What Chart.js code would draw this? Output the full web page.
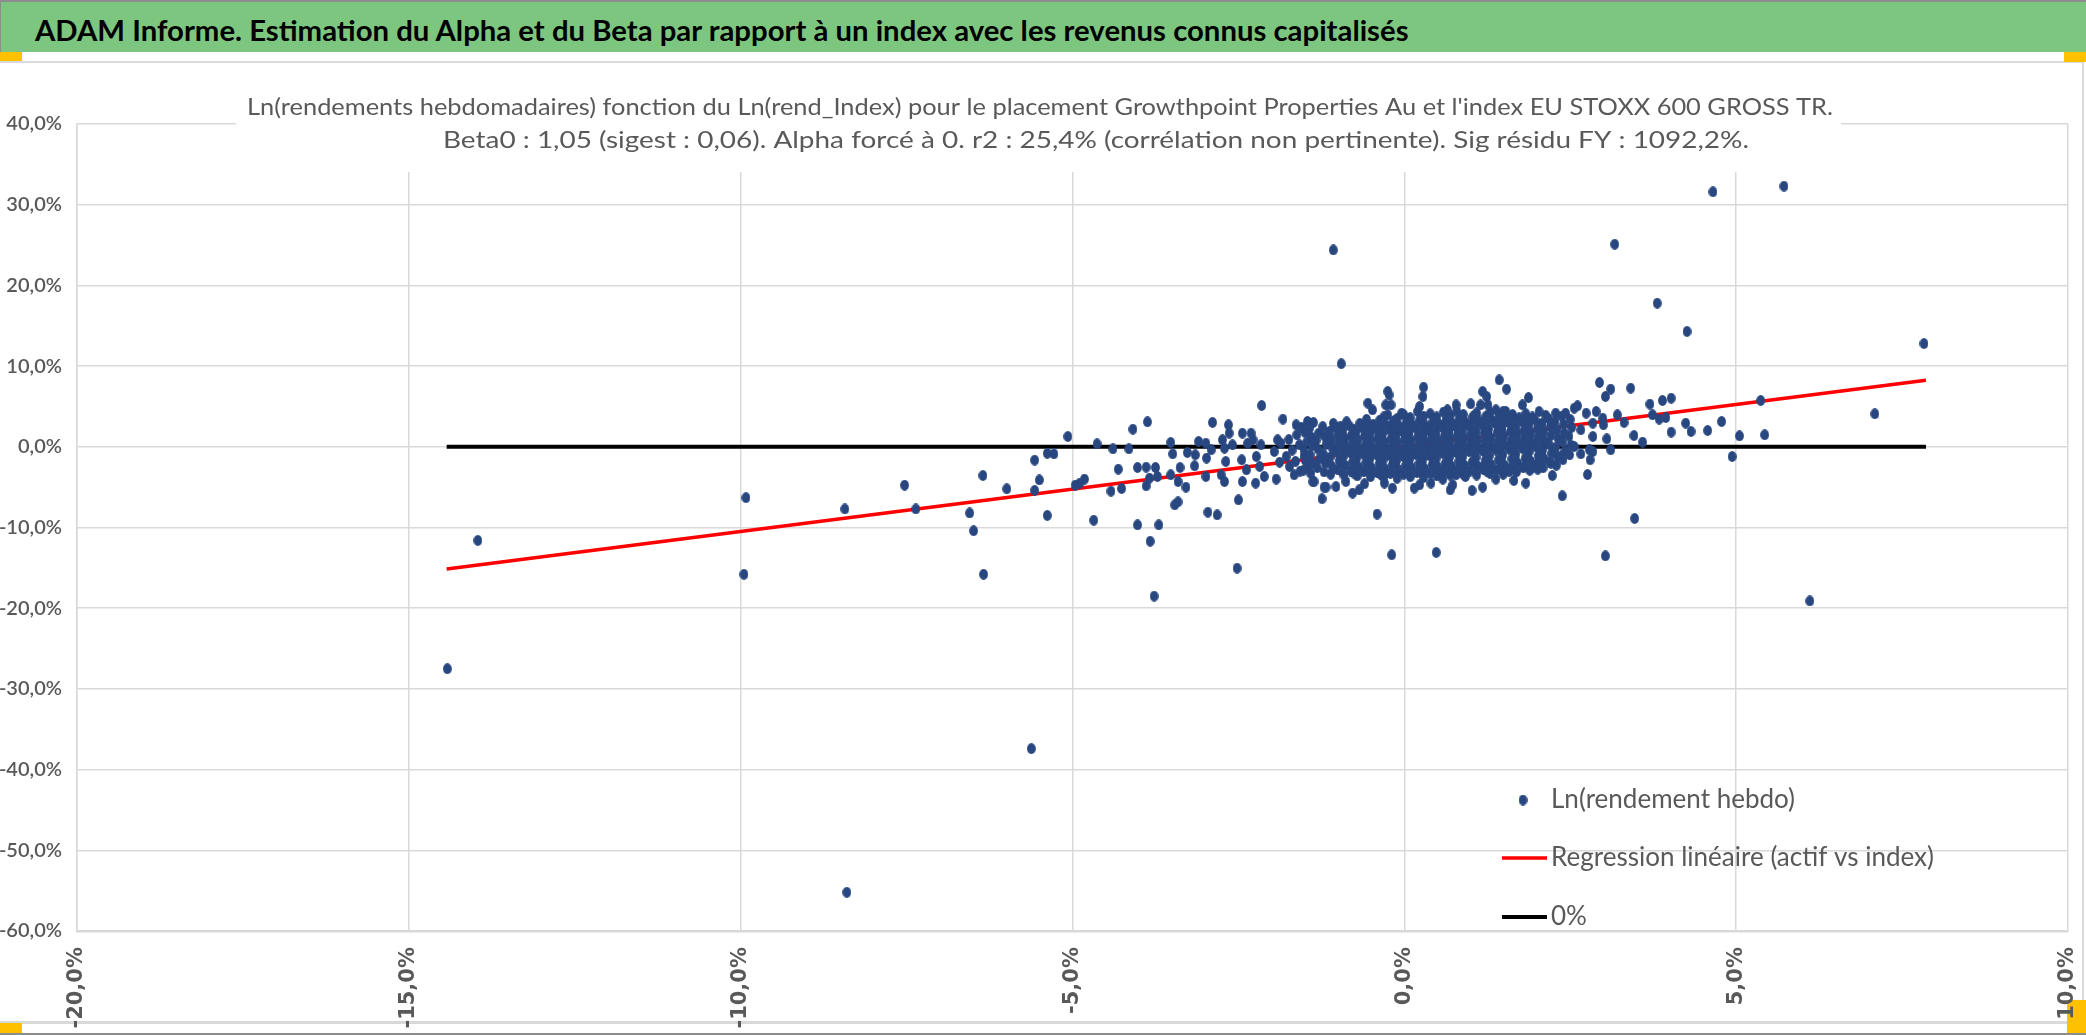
<!DOCTYPE html>
<html lang="fr">
<head>
<meta charset="utf-8">
<title>ADAM Informe - Alpha et Beta</title>
<script src="https://cdn.jsdelivr.net/npm/chart.js@4.4.1/dist/chart.umd.min.js"></script>
<style>
  html, body { margin: 0; padding: 0; background: #fff; }
  body { width: 2086px; height: 1035px; position: relative; overflow: hidden; }
  #banner {
    position: absolute; left: 0; top: 0; width: 2086px; height: 52px;
    background: #7DC67F; border-top: 2px solid #8C8C8C; border-left: 1px solid #8C8C8C;
    box-sizing: border-box;
  }
  #bannerText {
    position: absolute; left: 34px; top: 11px; line-height: 28px;
    font: bold 28px Lato, "Liberation Sans", sans-serif; color: #000;
    white-space: nowrap; transform-origin: left center;
  }
  #frame {
    position: absolute; left: 0; top: 61px; width: 2084px; height: 963px;
    border-top: 2px solid #D9D9D9; border-right: 2px solid #D9D9D9; border-bottom: 3px solid #D9D9D9;
    box-sizing: border-box;
  }
  #bottomEdge { position: absolute; left: 0; top: 1033px; width: 2086px; height: 2px; background: #8C8C8C; }
  .handle { position: absolute; background: #FFC000; }
  #chart { position: absolute; left: 0; top: 0; }
</style>
</head>
<body>
<div id="banner"><span id="bannerText">ADAM Informe. Estimation du Alpha et du Beta par rapport à un index avec les revenus connus capitalisés</span></div>
<div id="frame"></div>
<div id="bottomEdge"></div>
<div class="handle" style="left:0;top:52px;width:22px;height:9px"></div>
<div class="handle" style="left:2064px;top:52px;width:22px;height:10px"></div>
<div class="handle" style="left:0;top:1023px;width:22px;height:10px"></div>
<div class="handle" style="left:2067px;top:1000px;width:19px;height:33px"></div>
<canvas id="chart" width="2086" height="1035"></canvas>
<script>
// ln(rendement hebdo) de l'actif (y) contre ln(rendement) de l'index (x), en %
const leftTail = [
  [-14.42, -27.5], [-13.96, -11.6], [-9.92, -6.3], [-9.95, -15.8], [-8.40, -55.2], [-8.43, -7.7],
  [-7.53, -4.75], [-7.36, -7.7], [-6.55, -8.2], [-6.49, -10.4], [-6.35, -3.55], [-6.34, -15.8],
  [-5.99, -5.2], [-5.62, -37.4], [-5.57, -1.65], [-5.50, -4.1], [-5.57, -5.4], [-5.38, -0.8],
  [-5.28, -0.87], [-5.38, -8.5], [-5.07, 1.28], [-4.96, -4.75]
];

const leftShoulder = [
  [-4.89, -4.5], [-4.82, -4.0], [-4.68, -9.1], [-4.63, 0.37], [-4.42, -5.5], [-4.39, -0.25],
  [-4.31, -2.77], [-4.26, -5.16], [-4.15, -0.25], [-4.09, 2.19], [-4.02, -2.56], [-4.02, -9.67],
  [-3.89, -2.52], [-3.87, 3.1], [-3.89, -4.83], [-3.83, -11.7], [-3.84, -3.88], [-3.75, -2.56],
  [-3.72, -3.68], [-3.70, -9.67], [-3.77, -18.5], [-3.52, 0.54], [-3.49, -0.87], [-3.52, -3.47],
  [-3.46, -7.19], [-3.41, -6.82], [-3.41, -4.3], [-3.38, -2.56], [-3.29, -5.0], [-3.27, -0.7],
  [-3.15, -0.99], [-3.16, -2.35], [-3.10, 0.66], [-2.99, 0.45], [-2.98, -1.4], [-2.99, -3.68],
  [-2.96, -8.1], [-2.89, 3.02], [-2.82, -8.43], [-2.91, -0.37], [-2.74, 0.87], [-2.71, -0.17],
  [-2.65, 2.73], [-2.64, 1.69], [-2.76, -3.47], [-2.71, -4.3], [-2.69, -1.82], [-2.59, 0.25],
  [-2.52, -15.04], [-2.50, -6.57], [-2.44, 1.69], [-2.31, 1.69], [-2.44, -4.3], [-2.45, -1.61],
  [-2.38, -2.85], [-2.36, 0.45], [-2.28, 0.87], [-2.24, -4.5], [-2.23, -1.2], [-2.18, -2.44],
  [-2.16, 0.25], [-2.15, 5.12], [-2.11, -3.68], [-1.93, -4.0], [-1.96, -0.58], [-1.91, 0.87],
  [-1.86, 0.45], [-1.83, 3.43], [-1.78, -1.2], [-1.73, -2.44], [-1.66, -3.47], [-1.63, 2.73],
  [-1.62, 1.49], [-1.58, 0.25], [-1.51, -1.2], [-1.46, -2.44], [-1.46, 3.14], [-1.37, 3.02],
  [-1.36, -4.3], [-1.24, -6.44], [-1.18, -5.0], [-1.03, -4.92], [-0.88, -4.3], [-0.78, -5.74],
  [-0.68, -5.33], [-0.60, -4.58], [-0.41, -8.34], [-0.19, -13.38], [0.48, -13.09], [-0.55, 5.41],
  [-0.48, 4.58], [-0.25, 6.86], [-0.23, 6.44], [-0.28, 5.2], [-0.20, 5.2], [-0.25, 3.97],
  [-0.04, 4.17], [0.29, 7.39], [0.28, 6.24], [0.23, 5.0], [0.20, 4.38], [-0.18, -5.12],
  [-0.30, -4.5], [0.15, -5.12], [0.23, -4.71], [0.40, -4.5], [-1.38, -4.3], [-1.21, -5.0],
  [-1.88, -1.9], [-1.69, -0.4], [-1.74, 0.9], [-1.57, -3.0], [-1.64, -1.8], [-1.55, 2.4]
];

const clusterCore = [
  [-1.52, -2.9], [-1.49, -1.7], [-1.51, -0.5], [-1.47, 0.6], [-1.50, 1.8],
  [-1.41, -3.3], [-1.38, -2.1], [-1.42, -1.0], [-1.39, 0.1], [-1.40, 1.2], [-1.43, 2.3],
  [-1.31, -2.6], [-1.28, -1.5], [-1.30, -0.3], [-1.33, 0.8], [-1.29, 1.7],
  [-1.21, -3.1], [-1.19, -2.0], [-1.22, -0.9], [-1.18, 0.3], [-1.20, 1.3], [-1.23, 2.5],
  [-1.11, -3.4], [-1.09, -2.4], [-1.12, -1.3], [-1.08, -0.2], [-1.10, 0.9], [-1.13, 1.9], [-1.07, 2.9],
  [-1.01, -2.8], [-0.98, -1.7], [-1.02, -0.6], [-0.99, 0.5], [-1.00, 1.5], [-1.03, 2.4],
  [-0.91, -3.5], [-0.89, -2.3], [-0.92, -1.2], [-0.88, -0.1], [-0.90, 1.0], [-0.93, 2.0], [-0.87, 3.1],
  [-0.81, -3.0], [-0.78, -1.9], [-0.82, -0.7], [-0.79, 0.4], [-0.80, 1.4], [-0.83, 2.6],
  [-0.71, -3.6], [-0.69, -2.5], [-0.72, -1.4], [-0.68, -0.3], [-0.70, 0.8], [-0.73, 1.8], [-0.67, 2.9],
  [-0.61, -3.1], [-0.58, -2.0], [-0.62, -0.9], [-0.59, 0.2], [-0.60, 1.3], [-0.63, 2.3], [-0.57, 3.4],
  [-0.51, -3.7], [-0.49, -2.6], [-0.52, -1.5], [-0.48, -0.4], [-0.50, 0.7], [-0.53, 1.7], [-0.47, 2.8],
  [-0.41, -3.2], [-0.38, -2.1], [-0.42, -1.0], [-0.39, 0.1], [-0.40, 1.1], [-0.43, 2.2], [-0.37, 3.3],
  [-0.31, -3.8], [-0.29, -2.7], [-0.32, -1.6], [-0.28, -0.5], [-0.30, 0.6], [-0.33, 1.6], [-0.27, 2.7], [-0.31, 3.7],
  [-0.21, -3.3], [-0.18, -2.2], [-0.22, -1.1], [-0.19, 0.0], [-0.20, 1.0], [-0.23, 2.1], [-0.17, 3.1],
  [-0.11, -3.9], [-0.09, -2.8], [-0.12, -1.7], [-0.08, -0.6], [-0.10, 0.5], [-0.13, 1.5], [-0.07, 2.5], [-0.11, 3.5],
  [-0.01, -3.4], [0.02, -2.3], [-0.02, -1.2], [0.01, -0.1], [0.00, 0.9], [-0.03, 1.9], [0.03, 3.0], [-0.01, 4.0],
  [0.09, -3.7], [0.11, -2.6], [0.08, -1.5], [0.12, -0.4], [0.10, 0.7], [0.07, 1.7], [0.13, 2.7], [0.09, 3.6],
  [0.19, -3.2], [0.22, -2.1], [0.18, -1.0], [0.21, 0.2], [0.20, 1.2], [0.17, 2.3], [0.23, 3.3],
  [0.29, -3.8], [0.31, -2.7], [0.28, -1.6], [0.32, -0.5], [0.30, 0.6], [0.27, 1.6], [0.33, 2.6], [0.29, 3.8],
  [0.39, -3.3], [0.42, -2.2], [0.38, -1.1], [0.41, 0.0], [0.40, 1.0], [0.37, 2.0], [0.43, 3.1], [0.39, 4.1],
  [0.49, -3.6], [0.51, -2.5], [0.48, -1.4], [0.52, -0.3], [0.50, 0.8], [0.47, 1.8], [0.53, 2.8], [0.49, 3.7],
  [0.59, -3.1], [0.62, -2.0], [0.58, -0.8], [0.61, 0.3], [0.60, 1.3], [0.57, 2.4], [0.63, 3.4], [0.59, 4.3],
  [0.69, -3.5], [0.71, -2.4], [0.68, -1.3], [0.72, -0.2], [0.70, 0.9], [0.67, 1.9], [0.73, 2.9], [0.69, 3.9],
  [0.79, -2.9], [0.82, -1.8], [0.78, -0.7], [0.81, 0.4], [0.80, 1.5], [0.77, 2.5], [0.83, 3.5], [0.79, 4.4],
  [0.89, -3.4], [0.91, -2.3], [0.88, -1.2], [0.92, -0.1], [0.90, 1.0], [0.87, 2.0], [0.93, 3.0], [0.89, 4.0],
  [0.99, -3.0], [1.02, -1.9], [0.98, -0.6], [1.01, 0.5], [1.00, 1.6], [0.97, 2.6], [1.03, 3.7],
  [1.09, -3.5], [1.11, -2.4], [1.08, -1.3], [1.12, -0.2], [1.10, 0.9], [1.07, 2.1], [1.13, 3.2], [1.09, 4.2],
  [1.19, -2.8], [1.22, -1.7], [1.18, -0.5], [1.21, 0.6], [1.20, 1.7], [1.17, 2.7], [1.23, 3.8],
  [1.29, -3.3], [1.31, -2.2], [1.28, -1.1], [1.32, 0.0], [1.30, 1.1], [1.27, 2.2], [1.33, 3.3], [1.29, 4.3],
  [1.39, -2.9], [1.42, -1.6], [1.38, -0.4], [1.41, 0.7], [1.40, 1.8], [1.37, 2.9], [1.43, 3.9],
  [1.49, -3.4], [1.51, -2.3], [1.48, -1.0], [1.52, 0.2], [1.50, 1.3], [1.47, 2.4], [1.53, 3.5], [1.49, 4.4],
  [1.59, -2.7], [1.62, -1.5], [1.58, -0.3], [1.61, 0.8], [1.60, 1.9], [1.57, 3.0], [1.63, 4.0],
  [1.69, -3.1], [1.71, -2.0], [1.68, -0.9], [1.72, 0.3], [1.70, 1.4], [1.67, 2.5], [1.73, 3.6],
  [1.79, -2.6], [1.82, -1.4], [1.78, -0.2], [1.81, 0.9], [1.80, 2.0], [1.77, 3.1], [1.83, 4.1],
  [1.89, -2.9], [1.91, -1.8], [1.88, -0.6], [1.92, 0.5], [1.90, 1.6], [1.87, 2.7], [1.93, 3.7],
  [1.99, -2.3], [2.02, -1.1], [1.98, 0.0], [2.01, 1.1], [2.00, 2.2], [1.97, 3.3],
  [2.09, -2.6], [2.11, -1.5], [2.08, -0.4], [2.12, 0.7], [2.10, 1.8], [2.07, 2.9], [2.13, 3.9],
  [2.19, -1.9], [2.22, -0.8], [2.18, 0.3], [2.21, 1.4], [2.20, 2.5], [2.17, 3.5],
  [2.29, -2.3], [2.31, -1.2], [2.28, -0.1], [2.32, 1.0], [2.30, 2.1], [2.27, 3.1],
  [2.39, -1.6], [2.42, -0.5], [2.38, 0.6], [2.41, 1.7], [2.40, 2.8], [2.37, 3.8],
  [2.49, -1.0], [2.51, 0.2], [2.48, 1.3], [2.52, 2.4], [2.50, 3.4]
];

// semaines supplémentaires au coeur du nuage (zone très dense)
const coreFill = [
  [-0.96, -2.9], [-0.94, -1.75], [-0.97, -0.65], [-0.95, 0.45], [-0.93, 1.5], [-0.96, 2.55],
  [-0.76, -3.25], [-0.74, -2.2], [-0.77, -1.1], [-0.75, 0.0], [-0.73, 1.1], [-0.76, 2.2],
  [-0.56, -2.8], [-0.54, -1.7], [-0.57, -0.6], [-0.55, 0.5], [-0.53, 1.6], [-0.56, 2.6],
  [-0.36, -3.4], [-0.34, -2.4], [-0.37, -1.3], [-0.35, -0.2], [-0.33, 0.8], [-0.36, 1.9], [-0.34, 3.0],
  [-0.16, -2.9], [-0.14, -1.9], [-0.17, -0.8], [-0.15, 0.3], [-0.13, 1.3], [-0.16, 2.3], [-0.14, 3.3],
  [0.04, -3.1], [0.06, -2.0], [0.03, -0.9], [0.05, 0.2], [0.07, 1.3], [0.04, 2.4], [0.06, 3.5],
  [0.24, -3.0], [0.26, -1.9], [0.23, -0.8], [0.25, 0.4], [0.27, 1.4], [0.24, 2.5], [0.26, 3.6],
  [0.44, -2.9], [0.46, -1.8], [0.43, -0.7], [0.45, 0.5], [0.47, 1.5], [0.44, 2.5], [0.46, 3.5],
  [0.64, -2.7], [0.66, -1.6], [0.63, -0.5], [0.65, 0.6], [0.67, 1.7], [0.64, 2.8], [0.66, 3.8],
  [0.84, -3.1], [0.86, -2.0], [0.83, -0.9], [0.85, 0.2], [0.87, 1.3], [0.84, 2.4], [0.86, 3.4],
  [1.04, -2.6], [1.06, -1.5], [1.03, -0.4], [1.05, 0.7], [1.07, 1.8], [1.04, 2.9], [1.06, 3.9],
  [1.24, -3.0], [1.26, -1.9], [1.23, -0.8], [1.25, 0.3], [1.27, 1.4], [1.24, 2.5], [1.26, 3.5],
  [1.44, -2.5], [1.46, -1.3], [1.43, -0.2], [1.45, 0.9], [1.47, 2.0], [1.44, 3.1],
  [1.64, -2.3], [1.66, -1.2], [1.63, -0.1], [1.65, 1.0], [1.67, 2.1], [1.64, 3.2],
  [1.84, -2.1], [1.86, -1.0], [1.83, 0.1], [1.85, 1.2], [1.87, 2.3], [1.84, 3.4],
  [2.04, -1.8], [2.06, -0.7], [2.03, 0.4], [2.05, 1.5], [2.07, 2.6]
];

const rightShoulder = [
  [1.43, 8.3], [1.54, 7.15], [1.18, 6.86], [1.24, 6.24], [0.78, 5.2], [1.00, 5.33], [1.15, 5.2],
  [1.26, 5.2], [0.65, 4.58], [1.38, 4.58], [1.53, 4.38], [1.87, 6.1], [1.78, 5.2], [2.03, 4.38],
  [2.28, 4.17], [2.43, 4.17], [2.56, 4.79], [2.61, 5.08], [2.74, 4.17], [2.89, 4.38], [2.94, 7.97],
  [3.11, 7.15], [3.03, 6.24], [3.41, 7.27], [3.21, 3.97], [3.31, 3.02], [2.66, 2.11], [2.84, 2.93],
  [2.99, 3.55], [3.00, 2.73], [2.84, 1.28], [3.05, 0.99], [2.56, 0.04], [2.66, -0.87], [2.79, -0.37],
  [2.84, -0.58], [2.80, -1.61], [3.11, -0.37], [2.76, -3.43], [2.36, -1.2], [2.21, -2.02], [2.23, -3.55],
  [2.38, -6.07], [3.46, 1.4], [3.59, 0.58], [3.47, -8.88], [3.03, -13.51], [3.70, 5.29], [3.89, 5.74],
  [4.02, 6.03], [3.74, 3.97], [3.84, 3.43], [3.94, 3.63], [4.02, 1.82], [4.24, 2.93], [4.32, 1.9],
  [4.57, 2.02], [4.78, 3.14], [4.94, -1.2], [5.05, 1.36], [5.37, 5.74], [5.43, 1.49], [1.83, -4.5],
  [1.65, -4.17], [1.58, -3.06], [1.38, -4.0], [1.18, -5.0], [1.02, -5.41], [0.69, -5.33], [0.73, -4.71],
  [0.58, -4.0], [0.78, -3.47], [0.92, -3.68], [1.93, -2.52], [2.01, -2.77], [1.53, -2.77], [1.46, -1.82],
  [1.20, -2.44], [1.05, -2.85]
];

const outliers = [
  [-1.07, 24.4], [-0.95, 10.3], [4.65, 31.6], [5.72, 32.3], [3.17, 25.1], [3.81, 17.8],
  [4.26, 14.3], [7.83, 12.8], [7.09, 4.09], [6.11, -19.1]
];

const regressionX = [-14.43, 7.86];
const regressionY = [-15.15, 8.25];
const zeroLineX = [-14.43, 7.86];
const zeroLineY = [0, 0];

const xTickLabels = ['-20,0%', '-15,0%', '-10,0%', '-5,0%', '0,0%', '5,0%', '10,0%'];
const yTickLabels = ['-60,0%', '-50,0%', '-40,0%', '-30,0%', '-20,0%', '-10,0%', '0,0%', '10,0%', '20,0%', '30,0%', '40,0%'];
const seriesLabels = ['Ln(rendement hebdo)', 'Regression linéaire (actif vs index)', '0%'];
const titleLines = [
  "Ln(rendements hebdomadaires) fonction du Ln(rend_Index) pour le placement Growthpoint Properties Au et l'index EU STOXX 600 GROSS TR.",
  'Beta0 : 1,05 (sigest : 0,06). Alpha forcé à 0. r2 : 25,4% (corrélation non pertinente). Sig résidu FY : 1092,2%.'
];

// bandeau : on compresse le texte pour retrouver la largeur de l'original
const bannerText = document.getElementById('bannerText');
bannerText.style.transform = 'scaleX(' + (1374 / bannerText.offsetWidth) + ')';

// marqueur elliptique (comme Excel)
const dotMarker = document.createElement('canvas');
dotMarker.width = 9;
dotMarker.height = 11;
const dctx = dotMarker.getContext('2d');
dctx.fillStyle = '#284780';
dctx.beginPath();
dctx.ellipse(4.5, 5.5, 4.4, 5.4, 0, 0, Math.PI * 2);
dctx.fill();

function fitText(ctx, text, cx, y, width, align) {
    const w = ctx.measureText(text).width;
    ctx.save();
    ctx.translate(cx, y);
    ctx.scale(width / w, 1);
    ctx.textAlign = align;
    ctx.fillText(text, 0, 0);
    ctx.restore();
}

const titleBoxPlugin = {
    id: 'titleBox',
    beforeDatasetsDraw(chart, args, opts) {
        const ctx = chart.ctx;
        ctx.save();
        ctx.fillStyle = '#fff';
        ctx.fillRect(opts.box[0], opts.box[1], opts.box[2], opts.box[3]);
        ctx.fillStyle = opts.color;
        ctx.font = opts.font;
        ctx.textBaseline = 'alphabetic';
        opts.lines.forEach((line, i) => {
            fitText(ctx, titleLines[i], line.cx, line.baseline, line.width, 'center');
        });
        ctx.restore();
    }
};

const insideLegendPlugin = {
    id: 'insideLegend',
    afterDatasetsDraw(chart, args, opts) {
        const ctx = chart.ctx;
        ctx.save();
        ctx.font = opts.font;
        ctx.fillStyle = opts.color;
        ctx.textBaseline = 'middle';
        const datasets = chart.data.datasets;
        const longest = Math.max(...datasets.map(d => ctx.measureText(d.label).width));
        const sx = opts.longestWidth / longest;
        datasets.forEach((ds, i) => {
            const y = opts.rows[i];
            if (ds.showLine) {
                ctx.save();
                ctx.strokeStyle = ds.borderColor;
                ctx.lineWidth = ds.borderWidth;
                ctx.beginPath();
                ctx.moveTo(opts.lineFrom, y);
                ctx.lineTo(opts.lineTo, y);
                ctx.stroke();
                ctx.restore();
            } else {
                ctx.drawImage(dotMarker, opts.dotX - dotMarker.width / 2, y - dotMarker.height / 2);
            }
            ctx.save();
            ctx.translate(opts.textX, y);
            ctx.scale(sx, 1);
            ctx.fillText(ds.label, 0, 0);
            ctx.restore();
        });
        ctx.restore();
    }
};

const weeklyPoints = [...leftTail, ...leftShoulder, ...clusterCore, ...coreFill, ...rightShoulder, ...outliers];

const ctx = document.getElementById('chart').getContext('2d');
const scatterChart = new Chart(ctx, {
    type: 'scatter',
    data: {
        datasets: [{
            label: seriesLabels[0],
            data: weeklyPoints.map(p => ({ x: p[0], y: p[1] })),
            pointStyle: dotMarker,
            showLine: false
        }, {
            label: seriesLabels[1],
            data: regressionX.map((x, i) => ({ x: x, y: regressionY[i] })),
            showLine: true,
            borderColor: '#FF0000',
            borderWidth: 3.5,
            pointRadius: 0,
            fill: false
        }, {
            label: seriesLabels[2],
            data: zeroLineX.map((x, i) => ({ x: x, y: zeroLineY[i] })),
            showLine: true,
            borderColor: '#000000',
            borderWidth: 4,
            pointRadius: 0,
            fill: false
        }]
    },
    options: {
        responsive: false,
        animation: false,
        events: [],
        layout: { padding: { top: 124, right: 18, bottom: 0, left: 0 } },
        scales: {
            x: {
                type: 'linear',
                min: -20,
                max: 10,
                afterFit: scale => {
                    scale.height = 104;
                    scale.paddingLeft = 0;
                    scale.paddingRight = 0;
                },
                grid: { color: '#D9D9D9', lineWidth: 1.5, drawTicks: false },
                border: { display: true, color: '#D9D9D9', width: 2.5 },
                ticks: {
                    stepSize: 5,
                    autoSkip: false,
                    maxRotation: 90,
                    minRotation: 90,
                    padding: 16,
                    color: '#595959',
                    font: { family: 'DejaVu Sans', size: 21, weight: 'bold' },
                    callback: (value, i) => xTickLabels[i]
                }
            },
            y: {
                type: 'linear',
                min: -60,
                max: 40,
                afterFit: scale => {
                    scale.width = 77;
                    scale.paddingTop = 0;
                    scale.paddingBottom = 0;
                },
                grid: { color: '#D9D9D9', lineWidth: 1.5, drawTicks: false },
                border: { display: true, color: '#D9D9D9', width: 1.5 },
                ticks: {
                    stepSize: 10,
                    padding: 15,
                    color: '#595959',
                    font: { family: 'Lato', size: 20, weight: '600' },
                    callback: (value, i) => yTickLabels[i]
                }
            }
        },
        plugins: {
            legend: { display: false },
            tooltip: { enabled: false },
            titleBox: {
                box: [236, 80, 1605, 92],
                color: '#595959',
                font: '24px Lato, "Liberation Sans", sans-serif',
                lines: [
                    { cx: 1040, baseline: 115, width: 1586 },
                    { cx: 1096, baseline: 148, width: 1306 }
                ]
            },
            insideLegend: {
                rows: [800, 858, 917],
                dotX: 1523,
                lineFrom: 1502,
                lineTo: 1547,
                textX: 1551,
                longestWidth: 383,
                color: '#595959',
                font: '26px Lato, "Liberation Sans", sans-serif'
            }
        }
    },
    plugins: [titleBoxPlugin, insideLegendPlugin]
});
</script>
</body>
</html>
